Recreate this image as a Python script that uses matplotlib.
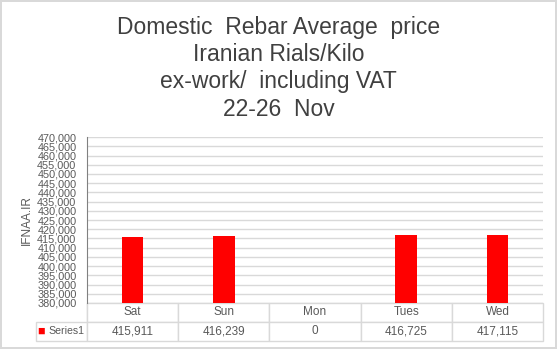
import matplotlib.pyplot as plt
import matplotlib.ticker as mticker

# データ
days = ['Sat', 'Sun', 'Mon', 'Tues', 'Wed']
prices = [415911, 416239, 0, 416725, 417115]
series_name = 'Series1'
title = 'Domestic  Rebar Average  price\nIranian Rials/Kilo\nex-work/  including VAT\n22-26  Nov'

grey_txt = '#595959'
grid_c = '#d9d9d9'

plt.rcParams['font.family'] = ['Liberation Sans', 'DejaVu Sans']

fig = plt.figure(figsize=(5.57, 3.49), dpi=100, edgecolor=grid_c, linewidth=1.5)
ax = fig.add_axes([0.156, 0.132, 0.819, 0.475])

x = range(len(days))
ax.bar(x, prices, width=0.24, color='#ff0000', zorder=3)
ax.set_xlim(-0.5, len(days) - 0.5)
ax.set_ylim(380000, 470000)
ax.yaxis.set_major_locator(mticker.MultipleLocator(5000))
ax.yaxis.set_major_formatter(mticker.FuncFormatter(lambda v, p: f'{int(v):,}'))
ax.tick_params(axis='y', length=0, labelsize=7.8, labelcolor=grey_txt, pad=7.5)
ax.set_xticks([])
ax.grid(axis='y', color=grid_c, linewidth=1, zorder=0)
for s in ['top', 'right', 'bottom']:
    ax.spines[s].set_visible(False)
ax.spines['left'].set_color('#808080')
ax.set_ylabel('IFNAA.IR', fontsize=8.5, color=grey_txt, labelpad=3)

# データテーブル
lead = 51 / 456
cells = [[''] + days, [series_name] + [f'{v:,}' for v in prices]]
tbl = ax.table(cellText=cells, colWidths=[lead] + [0.2] * len(days),
               bbox=[-lead, -0.229, 1 + lead, 0.229], cellLoc='center')
tbl.auto_set_font_size(False)
tbl.set_fontsize(8.5)
for (r, c), cell in tbl.get_celld().items():
    cell.set_edgecolor(grid_c)
    cell.set_linewidth(1)
    cell.get_text().set_color(grey_txt)
    if r == 0 and c == 0:
        cell.visible_edges = 'R'
tbl[1, 0].get_text().set_text(series_name)
tbl[1, 0].get_text().set_fontsize(7.6)
tbl[1, 0].get_text().set_ha('right')
tbl[1, 0]._loc = 'right'
tbl[1, 0].PAD = 0.04
ax.text(-lead + 0.004, -0.172, '■', transform=ax.transAxes, color='#ff0000',
        fontsize=9, va='center', ha='left')

fig.text(0.5, 0.955, title, ha='center', va='top', fontsize=16.5,
         color='#404040', linespacing=1.24)

fig.savefig('out.png', dpi=100)
